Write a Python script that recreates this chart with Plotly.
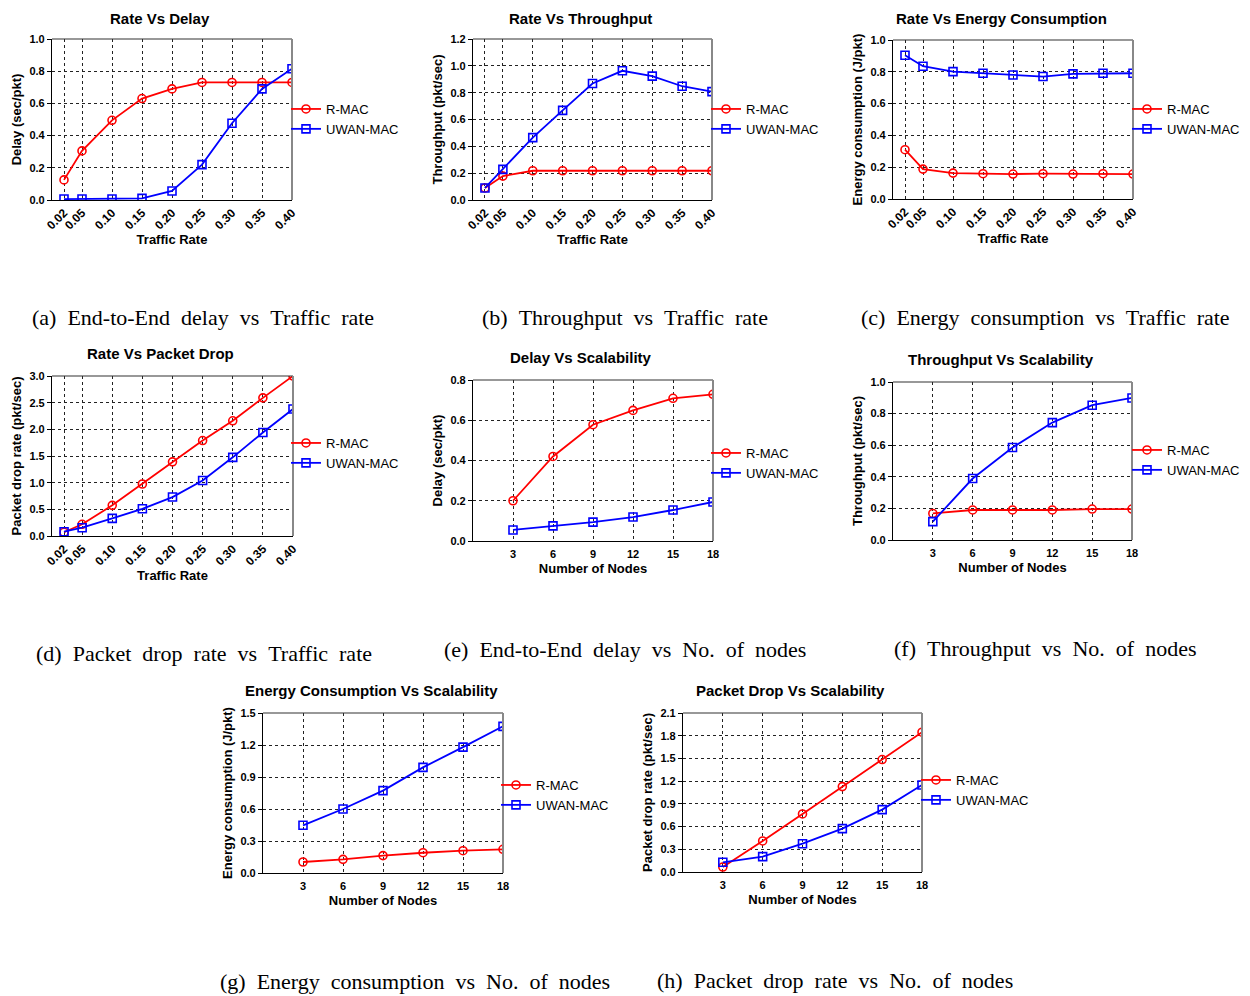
import plotly.graph_objects as go

W, H = 1250, 996
OFF = 8  # page body margin in the browser

rate = [0.02, 0.05, 0.10, 0.15, 0.20, 0.25, 0.30, 0.35, 0.40]
rate_labels = ["0.02", "0.05", "0.10", "0.15", "0.20", "0.25", "0.30", "0.35", "0.40"]
nodes = [3, 6, 9, 12, 15, 18]

delay_rate_rmac = [0.125, 0.305, 0.495, 0.63, 0.69, 0.73, 0.73, 0.73, 0.73]
delay_rate_uwan = [0.006, 0.006, 0.006, 0.01, 0.056, 0.22, 0.477, 0.69, 0.815]

thr_rate_rmac = [0.09, 0.178, 0.218, 0.218, 0.218, 0.218, 0.218, 0.218, 0.218]
thr_rate_uwan = [0.09, 0.228, 0.465, 0.668, 0.868, 0.963, 0.923, 0.848, 0.808]

energy_rate_rmac = [0.31, 0.188, 0.163, 0.159, 0.157, 0.159, 0.157, 0.159, 0.157]
energy_rate_uwan = [0.904, 0.835, 0.801, 0.791, 0.78, 0.77, 0.787, 0.791, 0.791]

drop_rate_rmac = [0.07, 0.22, 0.575, 0.975, 1.39, 1.79, 2.16, 2.59, 3.0]
drop_rate_uwan = [0.08, 0.156, 0.33, 0.51, 0.73, 1.04, 1.475, 1.94, 2.38]

delay_nodes_rmac = [0.2, 0.42, 0.578, 0.649, 0.709, 0.729]
delay_nodes_uwan = [0.055, 0.075, 0.094, 0.119, 0.154, 0.194]

thr_nodes_rmac = [0.168, 0.19, 0.19, 0.19, 0.196, 0.196]
thr_nodes_uwan = [0.116, 0.389, 0.585, 0.743, 0.853, 0.899]

energy_nodes_rmac = [0.103, 0.128, 0.163, 0.19, 0.209, 0.222]
energy_nodes_uwan = [0.447, 0.6, 0.772, 0.99, 1.18, 1.375]

drop_nodes_rmac = [0.066, 0.41, 0.767, 1.128, 1.485, 1.846]
drop_nodes_uwan = [0.128, 0.203, 0.374, 0.573, 0.824, 1.15]

RED = "#FF0000"
BLUE = "#0000FF"
SANS = "Liberation Sans, Arial, sans-serif"
SERIF = "Liberation Serif, Times New Roman, serif"


def px(x):
    return (x - OFF) / W


def py(y):
    return 1 - (y - OFF) / H


panels = [
    dict(title="Rate Vs Delay", x=rate, r=delay_rate_rmac, u=delay_rate_uwan,
         ylab="Delay (sec/pkt)", yr=[0, 1.0], dt=0.2, xlab="Traffic Rate",
         box=(52, 292, 39, 200), leg=(286, 94),
         cap="(a) End-to-End delay vs Traffic rate", cpos=(203, 317)),
    dict(title="Rate Vs Throughput", x=rate, r=thr_rate_rmac, u=thr_rate_uwan,
         ylab="Throughput (pkt/sec)", yr=[0, 1.2], dt=0.2, xlab="Traffic Rate",
         box=(473, 712, 39, 200), leg=(706, 94),
         cap="(b) Throughput vs Traffic rate", cpos=(625, 317)),
    dict(title="Rate Vs Energy Consumption", x=rate, r=energy_rate_rmac, u=energy_rate_uwan,
         ylab="Energy consumption (J/pkt)", yr=[0, 1.0], dt=0.2, xlab="Traffic Rate",
         box=(893, 1133, 40, 199), leg=(1127, 94),
         cap="(c) Energy consumption vs Traffic rate", cpos=(1045, 317)),
    dict(title="Rate Vs Packet Drop", x=rate, r=drop_rate_rmac, u=drop_rate_uwan,
         ylab="Packet drop rate (pkt/sec)", yr=[0, 3.0], dt=0.5, xlab="Traffic Rate",
         box=(52, 293, 376, 536), leg=(286, 428),
         cap="(d) Packet drop rate vs Traffic rate", cpos=(204, 653)),
    dict(title="Delay Vs Scalability", x=nodes, r=delay_nodes_rmac, u=delay_nodes_uwan,
         ylab="Delay (sec/pkt)", yr=[0, 0.8], dt=0.2, xlab="Number of Nodes",
         box=(473, 713, 380, 541), leg=(706, 438),
         cap="(e) End-to-End delay vs No. of nodes", cpos=(625, 649)),
    dict(title="Throughput Vs Scalability", x=nodes, r=thr_nodes_rmac, u=thr_nodes_uwan,
         ylab="Throughput (pkt/sec)", yr=[0, 1.0], dt=0.2, xlab="Number of Nodes",
         box=(893, 1132, 382, 540), leg=(1127, 435),
         cap="(f) Throughput vs No. of nodes", cpos=(1045, 648)),
    dict(title="Energy Consumption Vs Scalability", x=nodes, r=energy_nodes_rmac, u=energy_nodes_uwan,
         ylab="Energy consumption (J/pkt)", yr=[0, 1.5], dt=0.3, xlab="Number of Nodes",
         box=(263, 503, 713, 873), leg=(496, 770),
         cap="(g) Energy consumption vs No. of nodes", cpos=(415, 981)),
    dict(title="Packet Drop Vs Scalability", x=nodes, r=drop_nodes_rmac, u=drop_nodes_uwan,
         ylab="Packet drop rate (pkt/sec)", yr=[0, 2.1], dt=0.3, xlab="Number of Nodes",
         box=(683, 922, 713, 872), leg=(916, 765),
         cap="(h) Packet drop rate vs No. of nodes", cpos=(835, 980)),
]

fig = go.Figure()
annotations = []
shapes = []
layout = {}

for i, p in enumerate(panels, start=1):
    xa = "x" if i == 1 else f"x{i}"
    ya = "y" if i == 1 else f"y{i}"
    lg = "legend" if i == 1 else f"legend{i}"
    l, r, t, b = p["box"]
    for name, vals, col, sym in [("R-MAC", p["r"], RED, "circle"),
                                 ("UWAN-MAC", p["u"], BLUE, "square")]:
        fig.add_trace(go.Scatter(
            x=p["x"], y=vals, name=name, mode="lines+markers",
            line=dict(color=col, width=1.8),
            marker=dict(symbol=sym, size=8, color="rgba(255,255,255,0)",
                        line=dict(color=col, width=1.6)),
            xaxis=xa, yaxis=ya, legend=lg, showlegend=True))
    is_rate = p["x"] is rate
    xkey = "xaxis" if i == 1 else f"xaxis{i}"
    ykey = "yaxis" if i == 1 else f"yaxis{i}"
    xaxis = dict(domain=[px(l), px(r)], anchor=ya, automargin=False,
                 showline=True, linecolor="black", linewidth=1.2,
                 showgrid=True, gridcolor="#222", griddash="dot", gridwidth=1,
                 zeroline=False, ticks="")
    if is_rate:
        xaxis.update(range=[0, 0.40], tickvals=rate, ticktext=rate_labels, tickangle=-45,
                     tickfont=dict(family=SANS, size=12, color="black", weight="bold"),
                     title=dict(text=p["xlab"],
                                font=dict(family=SANS, size=13, color="black", weight="bold"),
                                standoff=0))
    else:
        xaxis.update(range=[0, 18], tickvals=nodes, tickangle=0, ticklabelstandoff=3,
                     tickfont=dict(family=SANS, size=11, color="black", weight="bold"),
                     title=dict(text=p["xlab"],
                                font=dict(family=SANS, size=13, color="black", weight="bold"),
                                standoff=4))
    yaxis = dict(domain=[py(b), py(t)], anchor=xa, automargin=False,
                 range=p["yr"], dtick=p["dt"], tick0=0, tickformat=".1f",
                 showline=True, linecolor="black", linewidth=1.2,
                 showgrid=True, gridcolor="#222", griddash="dot", gridwidth=1,
                 zeroline=False, ticks="outside", ticklen=4, tickcolor="black",
                 tickfont=dict(family=SANS, size=11, color="black", weight="bold"),
                 title=dict(text=p["ylab"], font=dict(family=SANS, size=13, color="black", weight="bold"),
                            standoff=4))
    layout[xkey] = xaxis
    layout[ykey] = yaxis
    lx, ly = p["leg"]
    layout[lg] = dict(x=px(lx), y=py(ly), xanchor="left", yanchor="top",
                      xref="paper", yref="paper", bgcolor="rgba(0,0,0,0)",
                      font=dict(family=SANS, size=13, color="black"),
                      tracegroupgap=0, itemwidth=30)
    shapes.append(dict(type="line", xref=f"{xa} domain", yref=f"{ya} domain",
                       x0=0, x1=1, y0=1, y1=1, line=dict(color="#333", width=1.2)))
    shapes.append(dict(type="line", xref=f"{xa} domain", yref=f"{ya} domain",
                       x0=1, x1=1, y0=0, y1=1, line=dict(color="#888", width=2)))
    annotations.append(dict(text=p["title"], xref="paper", yref="paper",
                            x=px((l + r) / 2 - 12), y=min(1.0, py(t - 33)),
                            xanchor="center", yanchor="top", showarrow=False,
                            font=dict(family=SANS, size=15, color="black", weight="bold")))
    cx, cy = p["cpos"]
    annotations.append(dict(text=p["cap"].replace(" ", "\u00a0\u00a0"), xref="paper", yref="paper",
                            x=px(cx), y=py(cy), xanchor="center", yanchor="middle",
                            showarrow=False, font=dict(family=SERIF, size=22, color="black")))

fig.update_layout(width=W, height=H, margin=dict(l=0, r=0, t=0, b=0, autoexpand=False),
                  paper_bgcolor="white", plot_bgcolor="white",
                  annotations=annotations, shapes=shapes, **layout)

fig.write_html("out.html")
